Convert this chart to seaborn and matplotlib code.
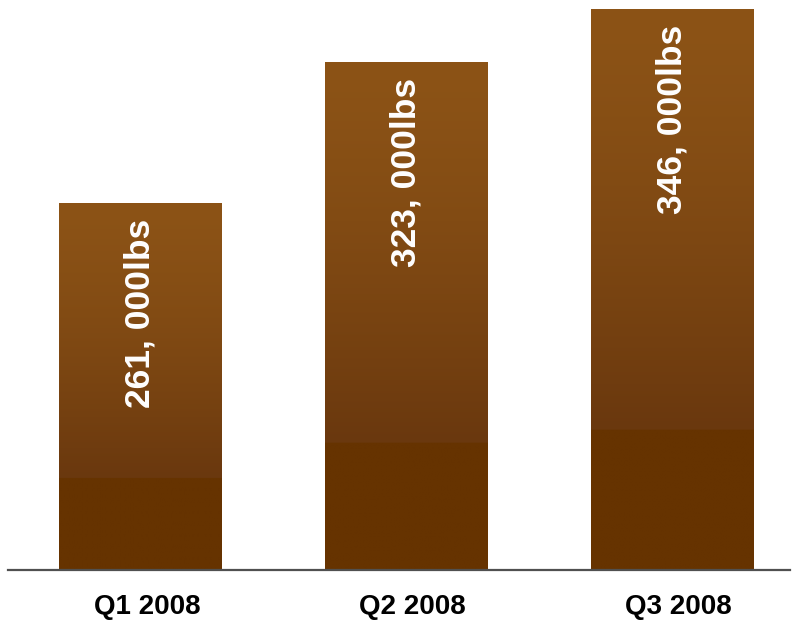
import numpy as np
import matplotlib
matplotlib.use("Agg")
import matplotlib.pyplot as plt
import seaborn as sns
import pandas as pd

quarters = ["Q1 2008", "Q2 2008", "Q3 2008"]
weights = [261, 323, 346]
bar_labels = ["261, 000lbs", "323, 000lbs", "346, 000lbs"]

sns.set_theme(style="white")
plt.rcParams['font.family'] = ['Liberation Sans', 'DejaVu Sans']

fig = plt.figure(figsize=(7.97, 6.23), dpi=100)
ax = fig.add_axes([8/797, 53/623, 782/797, 570/623])
df = pd.DataFrame({"quarter": quarters, "weight": weights})
sns.barplot(data=df, x="quarter", y="weight", color="#663300", width=0.61,
            saturation=1, ax=ax, edgecolor="none")
ymin, ymax = 100, 350

top_c = np.array([140, 83, 22]) / 255
mid_c = np.array([106, 56, 14]) / 255
flat_c = np.array([102, 51, 0]) / 255
n = 400
t = np.linspace(0, 1, n)
grad = np.zeros((n, 1, 3))
for k, tk in enumerate(t):
    if tk < 0.75:
        f = (tk / 0.75) ** 1.4
        grad[k, 0] = top_c + (mid_c - top_c) * f
    else:
        grad[k, 0] = flat_c

for patch in ax.patches:
    x0 = patch.get_x()
    x1 = x0 + patch.get_width()
    ytop = patch.get_y() + patch.get_height()
    im = ax.imshow(grad, extent=(x0, x1, ymin, ytop), origin='upper',
                   aspect='auto', zorder=patch.get_zorder() + 0.1,
                   interpolation='bilinear')
    im.set_clip_path(patch)
ax.set_xlim(-0.496, 2.444)
ax.set_ylim(ymin, ymax)

for i, (w, lab) in enumerate(zip(weights, bar_labels)):
    ax.annotate(lab, xy=(i, w), xytext=(0, -11.5), textcoords='offset points',
                rotation=90, ha='center', va='top', color='white',
                fontsize=25.5, fontweight='bold', zorder=5)

# category labels under the axis (slightly right of bar centres, as in reference)
ax.set_xticks(range(len(quarters)))
ax.set_xticklabels([""] * len(quarters))
for i, q in enumerate(quarters):
    ax.annotate(q, xy=(i, 0), xycoords=('data', 'axes fraction'),
                xytext=(5, -27), textcoords='offset points',
                ha='center', va='center', fontsize=20, fontweight='bold',
                color='black', annotation_clip=False)

for s in ["top", "left", "right"]:
    ax.spines[s].set_visible(False)
ax.spines["bottom"].set_color("#505050")
ax.spines["bottom"].set_linewidth(1.6)
ax.spines["bottom"].set_zorder(6)
ax.set_yticks([])
ax.set_xlabel("")
ax.set_ylabel("")
ax.tick_params(axis='x', length=0)

fig.savefig("out.png", dpi=100)
